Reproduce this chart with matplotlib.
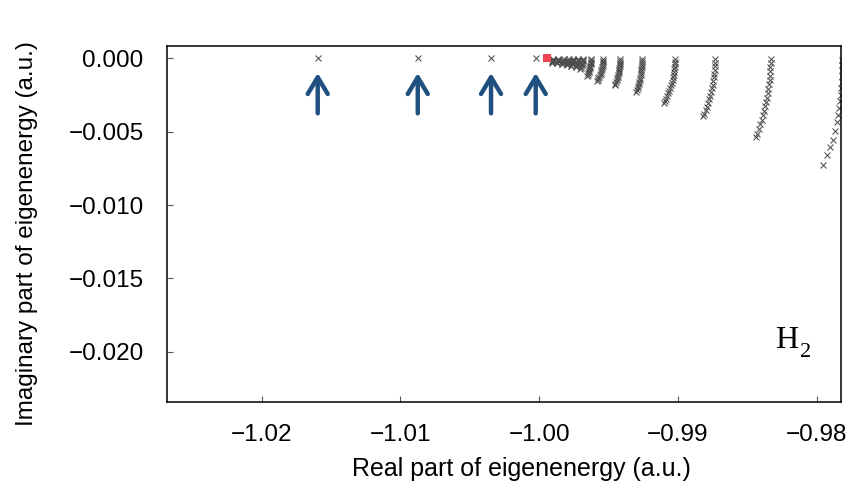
import matplotlib
matplotlib.use("Agg")
import matplotlib.pyplot as plt

# ---------------- data ----------------
isolated_re = [-1.01596, -1.00875, -1.00347, -1.00025]
isolated_im = [0.0, 0.0, 0.0, 0.0]
highlight_re = [-0.99945]
highlight_im = [0.0]

b1_re = [-0.99900, -0.99901, -0.99902, -0.99905, -0.99908, -0.99911]
b1_im = [-0.00003, -0.00009, -0.00015, -0.00021, -0.00026, -0.00030]
b2_re = [-0.99864, -0.99865, -0.99866, -0.99869, -0.99872, -0.99875]
b2_im = [-0.00003, -0.00010, -0.00017, -0.00024, -0.00030, -0.00035]
b3_re = [-0.99824, -0.99825, -0.99826, -0.99828, -0.99831, -0.99834, -0.99838]
b3_im = [-0.00003, -0.00010, -0.00017, -0.00024, -0.00030, -0.00036, -0.00042]
b4_re = [-0.99788, -0.99789, -0.99790, -0.99793, -0.99795, -0.99798, -0.99802]
b4_im = [-0.00003, -0.00011, -0.00019, -0.00027, -0.00034, -0.00041, -0.00048]
b5_re = [-0.99756, -0.99757, -0.99758, -0.99760, -0.99763, -0.99766, -0.99770, -0.99774]
b5_im = [-0.00003, -0.00011, -0.00019, -0.00027, -0.00035, -0.00042, -0.00049, -0.00055]
b6_re = [-0.99720, -0.99721, -0.99722, -0.99724, -0.99727, -0.99730, -0.99734, -0.99738]
b6_im = [-0.00003, -0.00012, -0.00021, -0.00030, -0.00038, -0.00046, -0.00054, -0.00062]
b7_re = [-0.99683, -0.99684, -0.99685, -0.99687, -0.99690, -0.99693, -0.99696, -0.99700, -0.99705]
b7_im = [-0.00003, -0.00012, -0.00021, -0.00030, -0.00039, -0.00047, -0.00055, -0.00063, -0.00070]
b8_re = [-0.99626, -0.99626, -0.99627, -0.99628, -0.99629, -0.99631, -0.99633, -0.99635,
         -0.99638, -0.99641, -0.99644, -0.99647, -0.99651, -0.99655]
b8_im = [-0.00004, -0.00013, -0.00022, -0.00031, -0.00040, -0.00049, -0.00058, -0.00067,
         -0.00076, -0.00085, -0.00094, -0.00103, -0.00112, -0.00120]
b9_re = [-0.99539, -0.99539, -0.99540, -0.99542, -0.99543, -0.99545, -0.99548, -0.99551,
         -0.99554, -0.99558, -0.99563, -0.99567, -0.99573, -0.99578, -0.99583]
b9_im = [-0.00005, -0.00016, -0.00027, -0.00038, -0.00049, -0.00060, -0.00071, -0.00082,
         -0.00093, -0.00104, -0.00115, -0.00126, -0.00137, -0.00148, -0.00157]
b10_re = [-0.99417, -0.99417, -0.99418, -0.99419, -0.99420, -0.99422, -0.99424, -0.99426,
          -0.99428, -0.99431, -0.99434, -0.99438, -0.99442, -0.99446, -0.99450, -0.99453]
b10_im = [-0.00005, -0.00017, -0.00029, -0.00041, -0.00053, -0.00065, -0.00077, -0.00089,
          -0.00101, -0.00113, -0.00125, -0.00137, -0.00149, -0.00161, -0.00172, -0.00180]
b11_re = [-0.99258, -0.99258, -0.99259, -0.99260, -0.99261, -0.99263, -0.99264, -0.99267,
          -0.99269, -0.99272, -0.99275, -0.99279, -0.99282, -0.99286, -0.99291, -0.99296, -0.99301]
b11_im = [-0.00005, -0.00019, -0.00033, -0.00047, -0.00061, -0.00075, -0.00089, -0.00103,
          -0.00117, -0.00131, -0.00145, -0.00159, -0.00173, -0.00187, -0.00201, -0.00215, -0.00230]
b12_re = [-0.99020, -0.99020, -0.99021, -0.99023, -0.99025, -0.99028, -0.99031, -0.99035,
          -0.99039, -0.99044, -0.99049, -0.99055, -0.99062, -0.99069, -0.99076, -0.99085,
          -0.99092, -0.99100]
b12_im = [-0.00005, -0.00022, -0.00040, -0.00058, -0.00076, -0.00094, -0.00112, -0.00130,
          -0.00148, -0.00166, -0.00184, -0.00202, -0.00220, -0.00238, -0.00256, -0.00274,
          -0.00290, -0.00305]
b13_re = [-0.98732, -0.98732, -0.98734, -0.98735, -0.98738, -0.98741, -0.98745, -0.98749,
          -0.98755, -0.98760, -0.98767, -0.98774, -0.98782, -0.98791, -0.98800, -0.98809, -0.98816]
b13_im = [-0.00005, -0.00030, -0.00055, -0.00080, -0.00105, -0.00130, -0.00155, -0.00180,
          -0.00205, -0.00230, -0.00255, -0.00280, -0.00305, -0.00330, -0.00355, -0.00378, -0.00395]
b14_re = [-0.98332, -0.98332, -0.98333, -0.98335, -0.98337, -0.98340, -0.98344, -0.98348,
          -0.98353, -0.98359, -0.98365, -0.98372, -0.98380, -0.98388, -0.98397, -0.98407,
          -0.98419, -0.98431, -0.98440]
b14_im = [-0.00005, -0.00030, -0.00058, -0.00088, -0.00118, -0.00148, -0.00178, -0.00208,
          -0.00238, -0.00268, -0.00298, -0.00328, -0.00358, -0.00388, -0.00418, -0.00450,
          -0.00483, -0.00515, -0.00539]
b15_re = [-0.97817, -0.97818, -0.97819, -0.97820, -0.97821, -0.97823, -0.97826, -0.97831,
          -0.97836, -0.97843, -0.97854, -0.97867, -0.97883, -0.97903, -0.97926, -0.97951]
b15_im = [-0.00012, -0.00045, -0.00082, -0.00120, -0.00160, -0.00203, -0.00248, -0.00293,
          -0.00339, -0.00385, -0.00434, -0.00498, -0.00555, -0.00607, -0.00657, -0.00725]

x_ticks = [-1.02, -1.01, -1.00, -0.99, -0.98]
x_tick_labels = ["\u22121.02", "\u22121.01", "\u22121.00", "\u22120.99", "\u22120.98"]
y_ticks = [0.0, -0.005, -0.010, -0.015, -0.020]
y_tick_labels = ["0.000", "\u22120.005", "\u22120.010", "\u22120.015", "\u22120.020"]

branches = [
    (b1_re, b1_im), (b2_re, b2_im), (b3_re, b3_im), (b4_re, b4_im), (b5_re, b5_im),
    (b6_re, b6_im), (b7_re, b7_im), (b8_re, b8_im), (b9_re, b9_im), (b10_re, b10_im),
    (b11_re, b11_im), (b12_re, b12_im), (b13_re, b13_im), (b14_re, b14_im), (b15_re, b15_im),
]

# ---------------- figure ----------------
plt.rcParams["font.family"] = ["Liberation Sans", "DejaVu Sans"]

fig = plt.figure(figsize=(8.51, 4.92), dpi=100)
ax = fig.add_axes([0.1966, 0.1829, 0.7913, 0.7242])

mk = dict(linestyle="none", marker="x", markersize=4.8, markeredgewidth=0.75,
          color="#4d4d4d", clip_on=True)
for re_vals, im_vals in branches:
    ax.plot(re_vals, im_vals, **mk)
ax.plot(isolated_re, isolated_im, **mk)
ax.plot(highlight_re, highlight_im, linestyle="none", marker="s", markersize=6,
        color="#ef4552", markeredgewidth=0, zorder=5)

arrow_color = "#1f5080"
for xr in isolated_re:
    ax.annotate("", xy=(xr, -0.00100), xytext=(xr, -0.00375),
                arrowprops=dict(arrowstyle="->,head_length=0.6,head_width=0.36",
                                lw=3.2, color=arrow_color, mutation_scale=20,
                                shrinkA=0, shrinkB=0))

ax.set_xlim(-1.0268, -0.97827)
ax.set_ylim(-0.02343, 0.00086)
ax.set_xticks(x_ticks)
ax.set_xticklabels(x_tick_labels)
ax.set_yticks(y_ticks)
ax.set_yticklabels(y_tick_labels)

ax.tick_params(axis="both", direction="in", length=4, width=0.8, color="#555555",
               labelsize=17.5, labelcolor="black")
ax.tick_params(axis="x", pad=16)
ax.tick_params(axis="y", pad=17)
for s in ax.spines.values():
    s.set_linewidth(1.1)
    s.set_color("black")

ax.set_xlabel("Real part of eigenenergy (a.u.)", fontsize=18)
ax.set_ylabel("Imaginary part of eigenenergy (a.u.)", fontsize=17.5)
ax.xaxis.set_label_coords(0.526, -0.153)
ax.yaxis.set_label_coords(-0.192, 0.474)

ax.text(0.9025, 0.1516, "H", transform=ax.transAxes, fontsize=23,
        family="Liberation Serif", ha="left", va="baseline")
ax.text(0.9396, 0.1263, "2", transform=ax.transAxes, fontsize=16,
        family="Liberation Serif", ha="left", va="baseline")

fig.savefig("out.png", dpi=100)
